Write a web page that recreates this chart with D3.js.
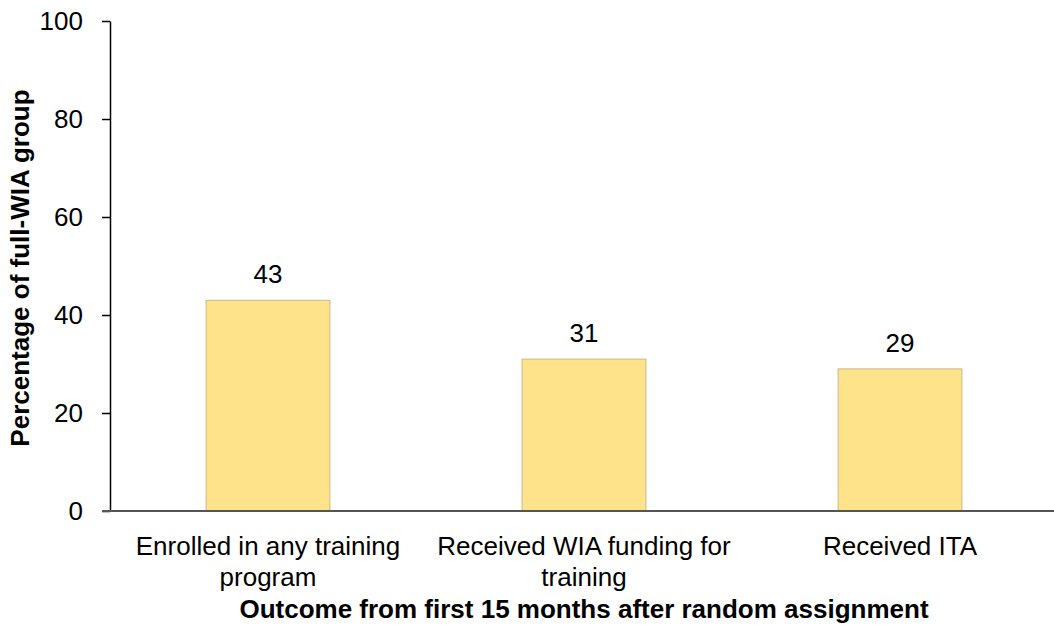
<!DOCTYPE html>
<html>
<head>
<meta charset="utf-8">
<script src="https://cdn.jsdelivr.net/npm/d3@7"></script>
<style>
  body { margin: 0; background: #fff; }
  text { font-family: Arial, "Liberation Sans", sans-serif; fill: #000; }
</style>
</head>
<body>
<svg width="1054" height="626"></svg>
<script>
var categories = [["Enrolled in any training", "program"], ["Received WIA funding for", "training"], ["Received ITA"]];
var values = [43, 31, 29];
var yTicks = [0, 20, 40, 60, 80, 100];

var svg = d3.select("svg"),
    margin = {left: 110, right: -4, top: 21, bottom: 115},
    width = 1054 - margin.left - margin.right,
    height = 626 - margin.top - margin.bottom,
    fs = "26px";

var g = svg.append("g").attr("transform", "translate(" + margin.left + "," + margin.top + ")");

var x = d3.scaleBand().domain(d3.range(values.length)).range([0, width]).paddingInner(0.608).paddingOuter(0.304);
var y = d3.scaleLinear().domain([0, 100]).range([height, 0]);

// bars
g.selectAll(".bar").data(values).enter().append("rect")
  .attr("class", "bar")
  .attr("x", function(d, i) { return x(i); })
  .attr("y", function(d) { return y(d); })
  .attr("width", x.bandwidth())
  .attr("height", function(d) { return height - y(d); })
  .style("fill", "#ffe38a")
  .style("stroke", "#c8b98a")
  .style("stroke-width", 1);

// value labels
g.selectAll(".val").data(values).enter().append("text")
  .attr("x", function(d, i) { return x(i) + x.bandwidth() / 2; })
  .attr("y", function(d) { return y(d) - 17; })
  .attr("text-anchor", "middle")
  .style("font-size", fs)
  .text(function(d) { return d; });

// y axis
var yAxis = g.append("g").call(d3.axisLeft(y).tickValues(yTicks).tickSize(8).tickSizeOuter(0));
yAxis.select(".domain").attr("stroke", "#000").attr("stroke-width", 1.5);
yAxis.selectAll(".tick line").attr("stroke", "#000").attr("stroke-width", 1.5);
yAxis.selectAll(".tick text").attr("x", -27).style("font-size", fs).style("font-family", "Arial, 'Liberation Sans', sans-serif").attr("fill", "#000");

// x axis line
g.append("line")
  .attr("x1", -8).attr("x2", width + 8)
  .attr("y1", height).attr("y2", height)
  .attr("stroke", "#555").attr("stroke-width", 2);

// category labels
var cat = g.selectAll(".cat").data(categories).enter().append("text")
  .attr("text-anchor", "middle")
  .attr("x", function(d, i) { return x(i) + x.bandwidth() / 2; })
  .attr("y", height + 44)
  .style("font-size", fs);
cat.selectAll("tspan").data(function(d) { return d; }).enter().append("tspan")
  .attr("x", function() { return d3.select(this.parentNode).attr("x"); })
  .attr("dy", function(d, i) { return i === 0 ? 0 : 31; })
  .text(function(d) { return d; });

// axis titles
svg.append("text")
  .attr("x", margin.left + x(1) + x.bandwidth() / 2)
  .attr("y", 618)
  .attr("text-anchor", "middle")
  .style("font-size", fs).style("font-weight", "bold")
  .text("Outcome from first 15 months after random assignment");

svg.append("text")
  .attr("transform", "translate(29," + (margin.top + height / 2 + 2) + ") rotate(-90)")
  .attr("text-anchor", "middle")
  .style("font-size", fs).style("font-weight", "bold")
  .text("Percentage of full-WIA group");
</script>
</body>
</html>
